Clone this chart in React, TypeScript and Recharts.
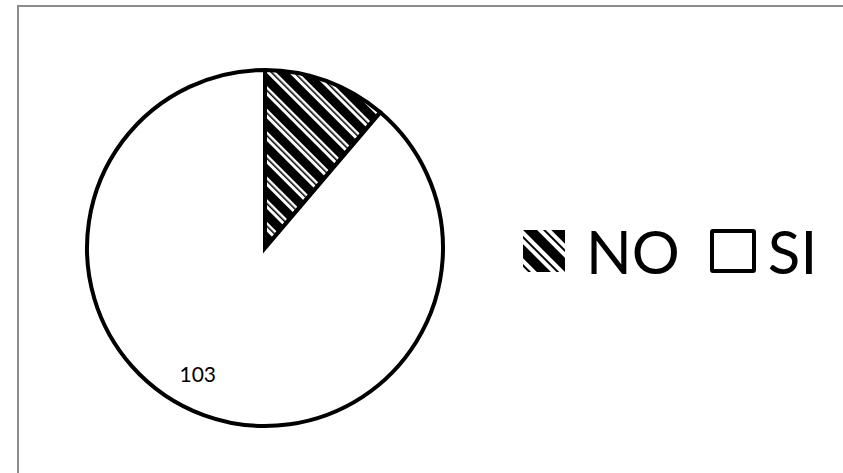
import { PieChart, Pie, Cell, Legend } from "recharts";

const categories = ["NO", "SI"];
const counts = [13, 103];
const fills = ["url(#stripes)", "#ffffff"];
const shownLabels = [false, true];

const pieData = categories.map((name, i) => ({ name, value: counts[i] }));

const RADIAN = Math.PI / 180;
const FONT = "Lato, 'Open Sans', sans-serif";

const renderLabel = (props: any) => {
  const { cx, cy, midAngle, outerRadius, index, value } = props;
  if (!shownLabels[index]) return null;
  const r = outerRadius * 0.8;
  const a = (midAngle - 8) * RADIAN;
  const x = cx + r * Math.cos(-a);
  const y = cy + r * Math.sin(-a);
  return (
    <text
      x={x}
      y={y}
      fill="#000"
      fontSize={21}
      fontFamily={FONT}
      textAnchor="middle"
      dominantBaseline="central"
    >
      {value}
    </text>
  );
};

const LegendContent = (props: any) => {
  const { payload } = props;
  return (
    <div style={{ display: "flex", alignItems: "center", fontFamily: FONT }}>
      {(payload || []).map((entry: any, i: number) => (
        <div key={i} style={{ display: "flex", alignItems: "center", marginRight: i === 0 ? 30 : 0 }}>
          {i === 0 ? (
            <svg width={42} height={42} style={{ marginRight: 21, display: "block" }}>
              <rect x={0} y={0} width={42} height={42} fill="url(#stripesBig)" />
            </svg>
          ) : (
            <svg width={46} height={44} style={{ marginRight: 12, display: "block" }}>
              <rect x={2} y={2} width={42} height={40} fill="#fff" stroke="#000" strokeWidth={4} rx={1} />
            </svg>
          )}
          <span style={{ fontSize: 60, lineHeight: 1, color: "#000" }}>{entry.value}</span>
        </div>
      ))}
    </div>
  );
};

export default function App() {
  return (
    <div
      style={{
        position: "fixed",
        left: 0,
        top: 0,
        width: 843,
        height: 473,
        overflow: "hidden",
        background: "#fff",
      }}
    >
      <div
        style={{
          position: "absolute",
          left: 17,
          top: 5,
          width: 826,
          height: 468,
          borderTop: "2px solid #8c8c8c",
          borderLeft: "2px solid #8c8c8c",
          boxSizing: "border-box",
        }}
      />
      <PieChart width={830} height={473} style={{ position: "absolute", left: 0, top: 0 }}>
        <defs>
          <pattern id="stripes" width={16} height={16} patternUnits="userSpaceOnUse" patternTransform="rotate(-45)">
            <rect x={0} y={0} width={16} height={16} fill="#fff" />
            <rect x={0} y={0} width={9} height={16} fill="#000" />
            <rect x={12} y={0} width={1.5} height={16} fill="#000" />
          </pattern>
          <pattern id="stripesBig" width={20} height={20} patternUnits="userSpaceOnUse" patternTransform="rotate(-45)">
            <rect x={0} y={0} width={20} height={20} fill="#fff" />
            <rect x={0} y={0} width={10} height={20} fill="#000" />
            <rect x={14} y={0} width={2} height={20} fill="#000" />
          </pattern>
        </defs>
        <Pie
          data={pieData}
          dataKey="value"
          nameKey="name"
          cx={260}
          cy={243}
          outerRadius={178}
          startAngle={90}
          endAngle={-270}
          stroke="#000"
          strokeWidth={4}
          label={renderLabel}
          labelLine={false}
          isAnimationActive={false}
        >
          {pieData.map((_, i) => (
            <Cell key={i} fill={fills[i]} stroke="#000" strokeWidth={4} />
          ))}
        </Pie>
        <Legend
          content={<LegendContent />}
          wrapperStyle={{ position: "absolute", left: 523, top: 221, width: 300 }}
        />
      </PieChart>
    </div>
  );
}
